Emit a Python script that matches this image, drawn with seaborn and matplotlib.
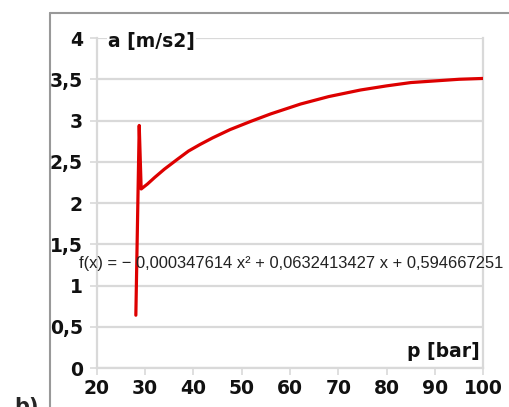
import numpy as np
import pandas as pd
import matplotlib
matplotlib.use('Agg')
import matplotlib.pyplot as plt
import seaborn as sns
from matplotlib.lines import Line2D

sns.set_style('white')
plt.rcParams['font.family'] = ['DejaVu Sans']

# data
p_bar = [28.1, 28.8, 29.2, 30.5, 32, 34, 36.7, 39, 41.4, 44, 47.6, 51.9, 56, 62.2, 68, 74.6, 80, 85, 90, 95, 100]
a_ms2 = [0.64, 2.94, 2.17, 2.23, 2.31, 2.41, 2.53, 2.63, 2.71, 2.79, 2.89, 2.99, 3.08, 3.20, 3.29, 3.37, 3.42, 3.46, 3.48, 3.50, 3.51]
x_ticks = [20, 30, 40, 50, 60, 70, 80, 90, 100]
y_ticks = [0, 0.5, 1, 1.5, 2, 2.5, 3, 3.5, 4]
y_labels = ['0', '0,5', '1', '1,5', '2', '2,5', '3', '3,5', '4']
fit_label = 'f(x) = \u2212 0,000347614 x\u00b2 + 0,0632413427 x + 0,594667251'

df = pd.DataFrame({'p': p_bar, 'a': a_ms2})

grid_col = '#d9d9d9'
fig = plt.figure(figsize=(5.1, 4.07), dpi=100)
ax = fig.add_axes([0.1896, 0.0958, 0.7581, 0.8108])

for yv in y_ticks:
    ax.axhline(yv, color=grid_col, lw=1.6, zorder=0)

sns.lineplot(data=df, x='p', y='a', sort=False, estimator=None,
             color='#dd0000', lw=2.3, ax=ax, zorder=3)

ax.set_xlim(20, 100)
ax.set_ylim(0, 4)
ax.set_xticks(x_ticks)
ax.set_yticks(y_ticks)
ax.set_yticklabels(y_labels)
ax.set_xlabel('')
ax.set_ylabel('')
for lab in ax.get_xticklabels() + ax.get_yticklabels():
    lab.set_fontweight('bold')
    lab.set_fontsize(13.5)
    lab.set_color('#111111')
ax.tick_params(axis='both', which='both', direction='out', length=5,
               width=1.2, color=grid_col, pad=3, bottom=True, left=True)
ax.tick_params(axis='y', pad=5)

for side in ['left', 'bottom', 'right']:
    ax.spines[side].set_color(grid_col)
    ax.spines[side].set_linewidth(1.6)
ax.spines['top'].set_visible(False)

ax.text(22.4, 3.96, 'a [m/s2]', fontsize=13.5, fontweight='bold', va='center',
        ha='left', color='#111111',
        bbox=dict(facecolor='white', edgecolor='none', pad=1))
ax.text(99.2, 0.2, 'p [bar]', fontsize=13.5, fontweight='bold', va='center',
        ha='right', color='#111111')
ax.text(16.3, 1.27, fit_label, fontsize=11.9, va='center', ha='left',
        clip_on=False, color='#222222', family='Liberation Sans')

# outer frame of the original figure
fig.add_artist(Line2D([50 / 510, 50 / 510], [0, 1 - 13 / 407], color='#999999', lw=1.5))
fig.add_artist(Line2D([50 / 510, 1], [1 - 13 / 407, 1 - 13 / 407], color='#999999', lw=1.5))
fig.text(14 / 510, -0.014, 'b)', fontsize=15, fontweight='bold', va='baseline')

fig.savefig('out.png', dpi=100)
